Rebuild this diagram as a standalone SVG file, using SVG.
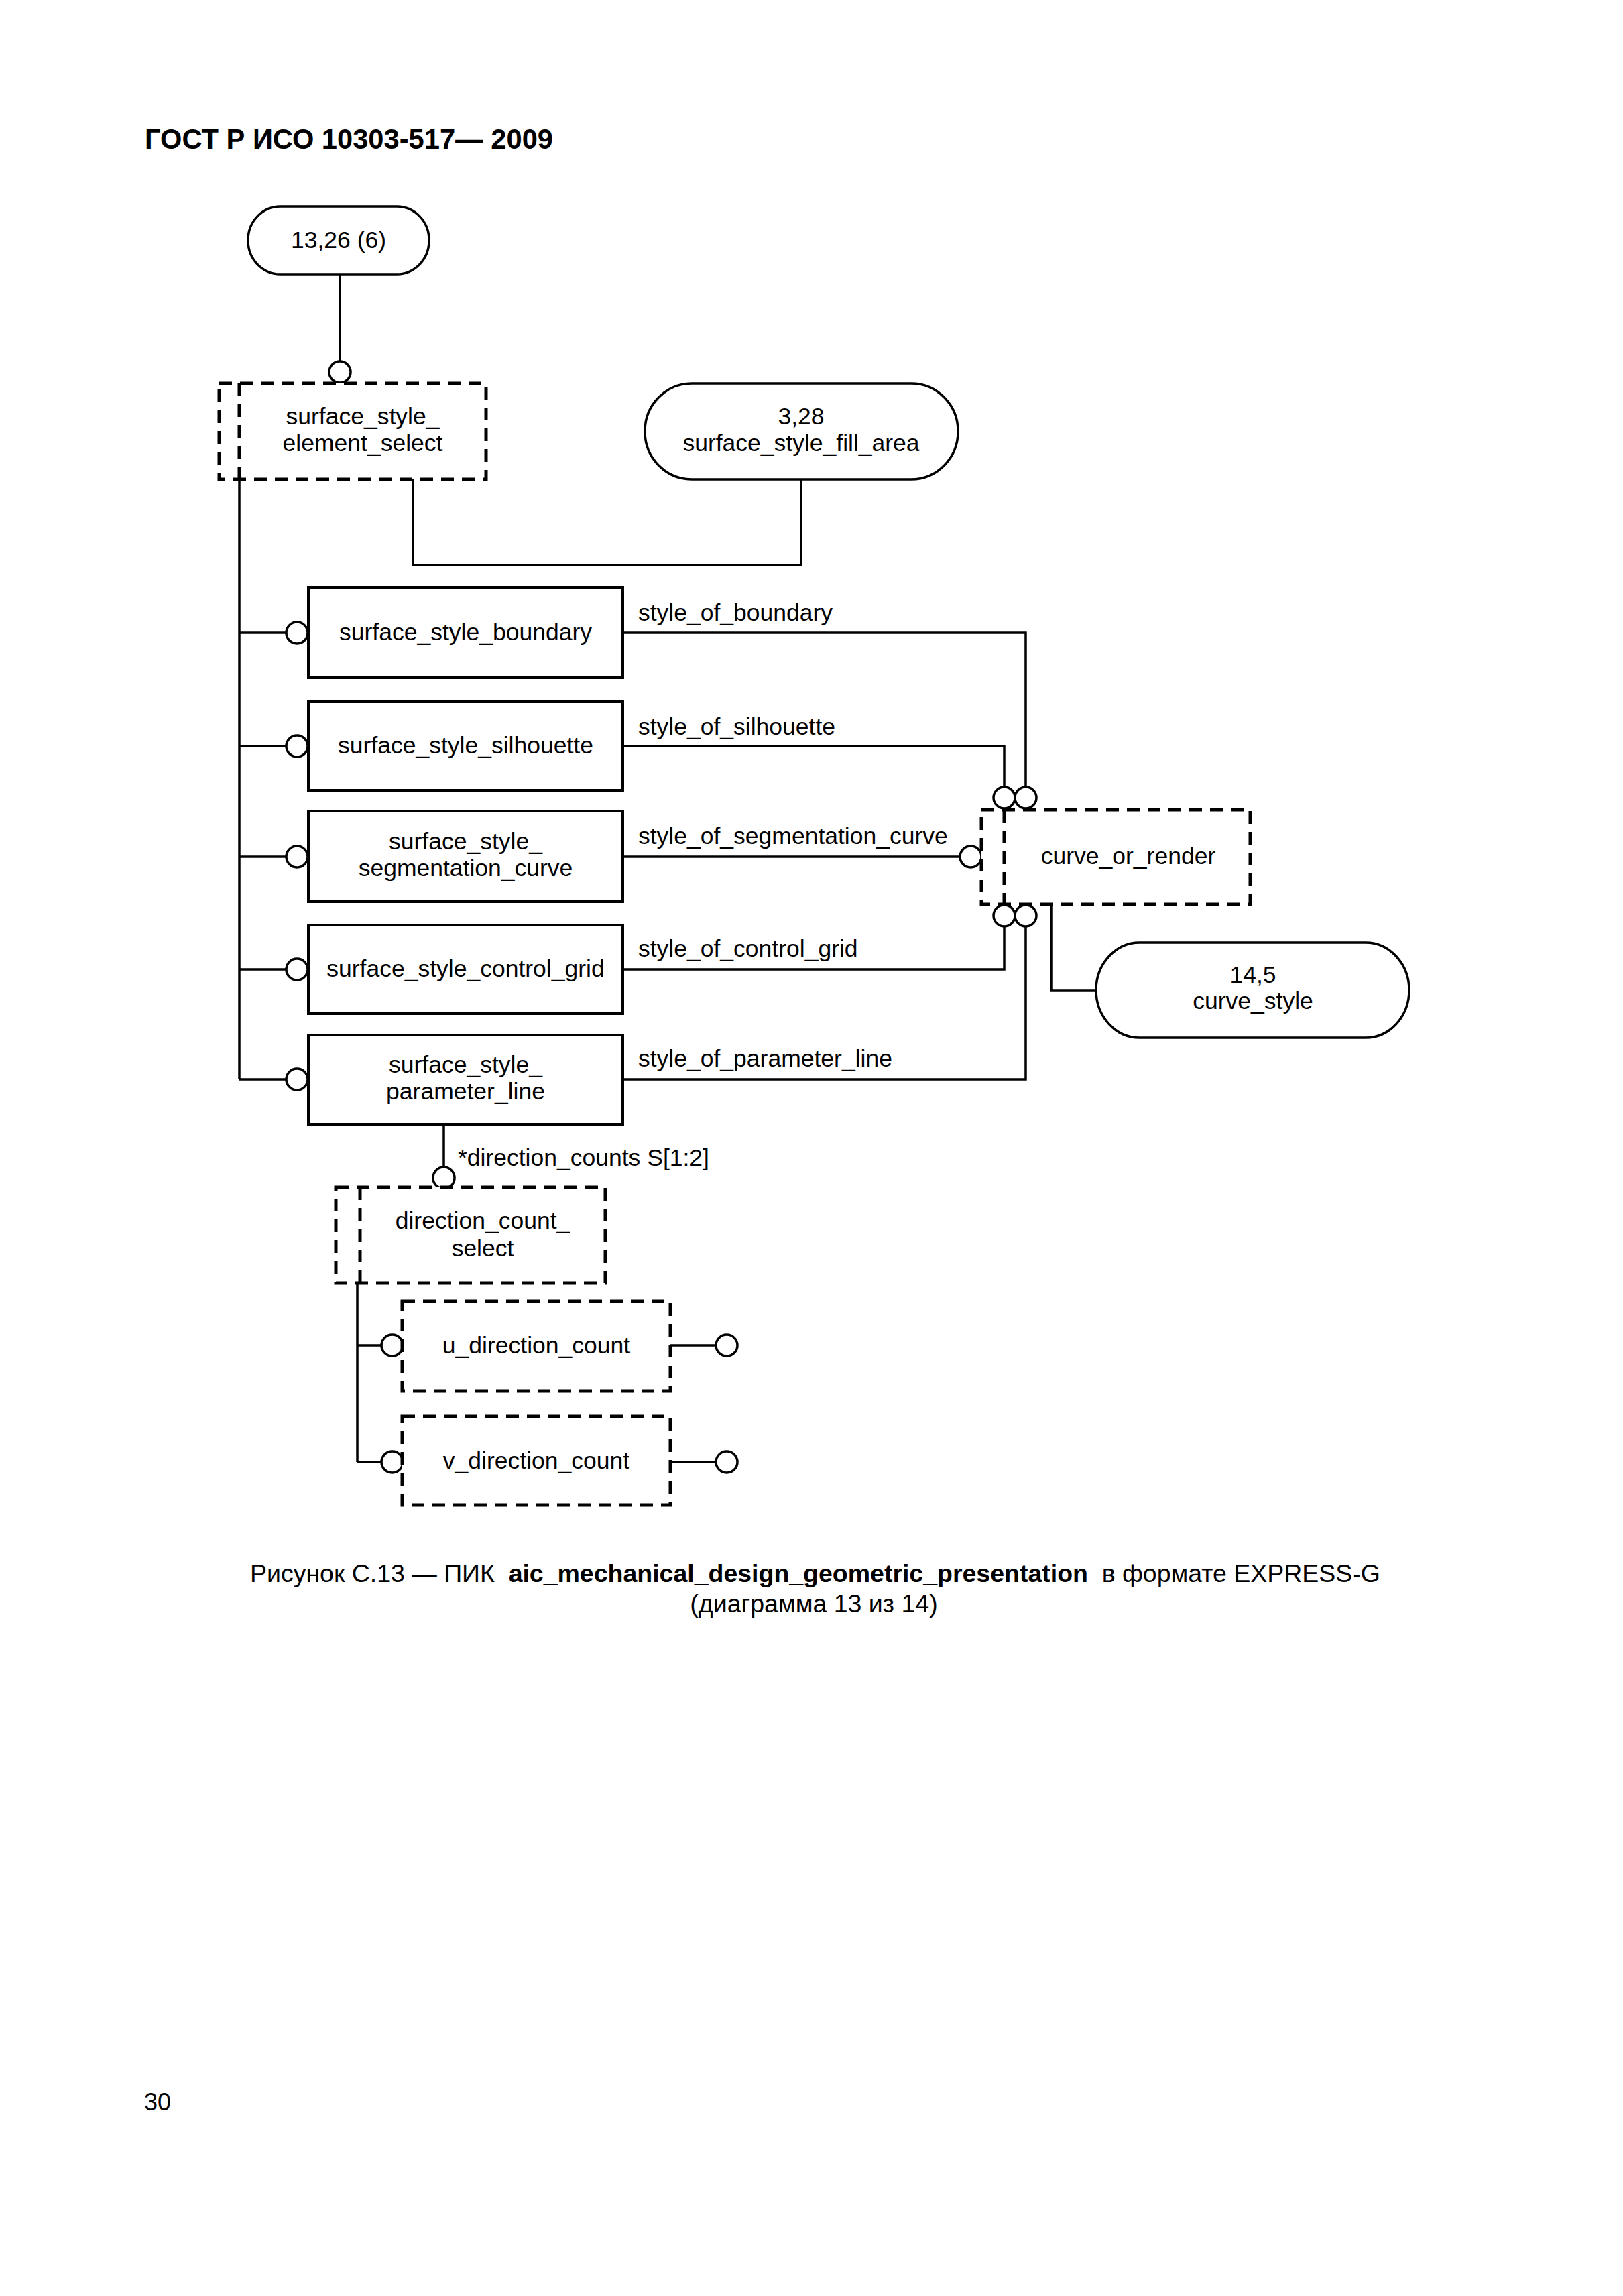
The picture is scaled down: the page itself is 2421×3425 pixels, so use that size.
<svg xmlns="http://www.w3.org/2000/svg" width="2421" height="3425" viewBox="0 0 2421 3425">
<style>
text{font-family:"Liberation Sans",Arial,sans-serif;font-size:35.5px;fill:#000}
.c{text-anchor:middle}
.hdr{font-size:43px;font-weight:bold}
.cap{font-size:37.5px}
.ent{fill:#fff;stroke:#000;stroke-width:4}
.sel{fill:#fff;stroke:#000;stroke-width:5;stroke-dasharray:19 12}
.dl{fill:none;stroke:#000;stroke-width:5;stroke-dasharray:19 12}
.pill{fill:#fff;stroke:#000;stroke-width:3.5}
.ln{fill:none;stroke:#000;stroke-width:3.5}
.o{fill:#fff;stroke:#000;stroke-width:3.5}
</style>
<rect width="2421" height="3425" fill="#fff"/>
<text class="hdr" x="216" y="222" textLength="609" lengthAdjust="spacingAndGlyphs">ГОСТ Р ИСО 10303-517— 2009</text>

<g id="connectors">
<path class="ln" d="M507,409 V539"/>
<path class="ln" d="M616,715 V843 H1195 V715"/>
<path class="ln" d="M357,715 V1610"/>
<path class="ln" d="M357,944 H427"/>
<path class="ln" d="M357,1113 H427"/>
<path class="ln" d="M357,1278 H427"/>
<path class="ln" d="M357,1446 H427"/>
<path class="ln" d="M357,1610 H427"/>
<path class="ln" d="M929,944 H1530 V1174"/>
<path class="ln" d="M929,1113 H1498 V1174"/>
<path class="ln" d="M929,1278 H1432"/>
<path class="ln" d="M929,1446 H1498 V1382"/>
<path class="ln" d="M929,1610 H1530 V1382"/>
<path class="ln" d="M1568,1349 V1478 H1635"/>
<path class="ln" d="M662,1677 V1741"/>
<path class="ln" d="M533,1914 V2181"/>
<path class="ln" d="M533,2007 H569"/>
<path class="ln" d="M533,2181 H569"/>
<path class="ln" d="M1000,2007 H1068"/>
<path class="ln" d="M1000,2181 H1068"/>
<circle class="o" cx="507" cy="555" r="16"/>
<circle class="o" cx="443" cy="944" r="16"/>
<circle class="o" cx="443" cy="1113" r="16"/>
<circle class="o" cx="443" cy="1278" r="16"/>
<circle class="o" cx="443" cy="1446" r="16"/>
<circle class="o" cx="443" cy="1610" r="16"/>
<circle class="o" cx="1498" cy="1190" r="16"/>
<circle class="o" cx="1530" cy="1190" r="16"/>
<circle class="o" cx="1448" cy="1278" r="16"/>
<circle class="o" cx="1498" cy="1366" r="16"/>
<circle class="o" cx="1530" cy="1366" r="16"/>
<circle class="o" cx="662" cy="1757" r="16"/>
<circle class="o" cx="585" cy="2007" r="16"/>
<circle class="o" cx="585" cy="2181" r="16"/>
<circle class="o" cx="1084" cy="2007" r="16"/>
<circle class="o" cx="1084" cy="2181" r="16"/>
<text x="952" y="926">style_of_boundary</text>
<text x="952" y="1096">style_of_silhouette</text>
<text x="952" y="1259">style_of_segmentation_curve</text>
<text x="952" y="1427">style_of_control_grid</text>
<text x="952" y="1591">style_of_parameter_line</text>
<text x="683" y="1739">*direction_counts S[1:2]</text>
</g>

<g id="n_13_26">
<rect class="pill" x="370" y="308" width="270" height="101" rx="48" ry="50"/>
<text class="c" x="505" y="370">13,26 (6)</text>
</g>
<g id="n_surface_style_element_select">
<rect class="sel" x="327" y="572" width="398" height="143"/>
<path class="dl" d="M357,572 V715"/>
<text class="c" x="541" y="633">surface_style_</text>
<text class="c" x="541" y="673">element_select</text>
</g>
<g id="n_surface_style_fill_area">
<rect class="pill" x="962" y="572" width="467" height="143" rx="70" ry="71"/>
<text class="c" x="1195" y="633">3,28</text>
<text class="c" x="1195" y="673">surface_style_fill_area</text>
</g>
<g id="n_surface_style_boundary">
<rect class="ent" x="460" y="876" width="469" height="135"/>
<text class="c" x="694.5" y="955">surface_style_boundary</text>
</g>
<g id="n_surface_style_silhouette">
<rect class="ent" x="460" y="1046" width="469" height="133"/>
<text class="c" x="694.5" y="1124">surface_style_silhouette</text>
</g>
<g id="n_surface_style_segmentation_curve">
<rect class="ent" x="460" y="1210" width="469" height="135"/>
<text class="c" x="694.5" y="1267">surface_style_</text>
<text class="c" x="694.5" y="1307">segmentation_curve</text>
</g>
<g id="n_surface_style_control_grid">
<rect class="ent" x="460" y="1380" width="469" height="132"/>
<text class="c" x="694.5" y="1457">surface_style_control_grid</text>
</g>
<g id="n_surface_style_parameter_line">
<rect class="ent" x="460" y="1544" width="469" height="133"/>
<text class="c" x="694.5" y="1600">surface_style_</text>
<text class="c" x="694.5" y="1640">parameter_line</text>
</g>
<g id="n_curve_or_render">
<rect class="sel" x="1464" y="1208" width="401" height="141"/>
<path class="dl" d="M1498,1208 V1349"/>
<text class="c" x="1683" y="1289">curve_or_render</text>
</g>
<g id="n_curve_style">
<rect class="pill" x="1635" y="1406" width="467" height="142" rx="65" ry="71"/>
<text class="c" x="1869" y="1466">14,5</text>
<text class="c" x="1869" y="1505">curve_style</text>
</g>
<g id="n_direction_count_select">
<rect class="sel" x="501" y="1771" width="402" height="143"/>
<path class="dl" d="M537,1771 V1914"/>
<text class="c" x="720" y="1833">direction_count_</text>
<text class="c" x="720" y="1874">select</text>
</g>
<g id="n_u_direction_count">
<rect class="sel" x="600" y="1941" width="400" height="134"/>
<text class="c" x="800" y="2019">u_direction_count</text>
</g>
<g id="n_v_direction_count">
<rect class="sel" x="600" y="2113" width="400" height="132"/>
<text class="c" x="800" y="2191">v_direction_count</text>
</g>

<text class="cap c" x="1216" y="2360" xml:space="preserve" textLength="1686" lengthAdjust="spacing">Рисунок С.13 — ПИК  <tspan font-weight="bold">aic_mechanical_design_geometric_presentation</tspan>  в формате EXPRESS-G</text>
<text class="cap c" x="1214" y="2405">(диаграмма 13 из 14)</text>
<text x="215" y="3148" style="font-size:36px">30</text>
</svg>
